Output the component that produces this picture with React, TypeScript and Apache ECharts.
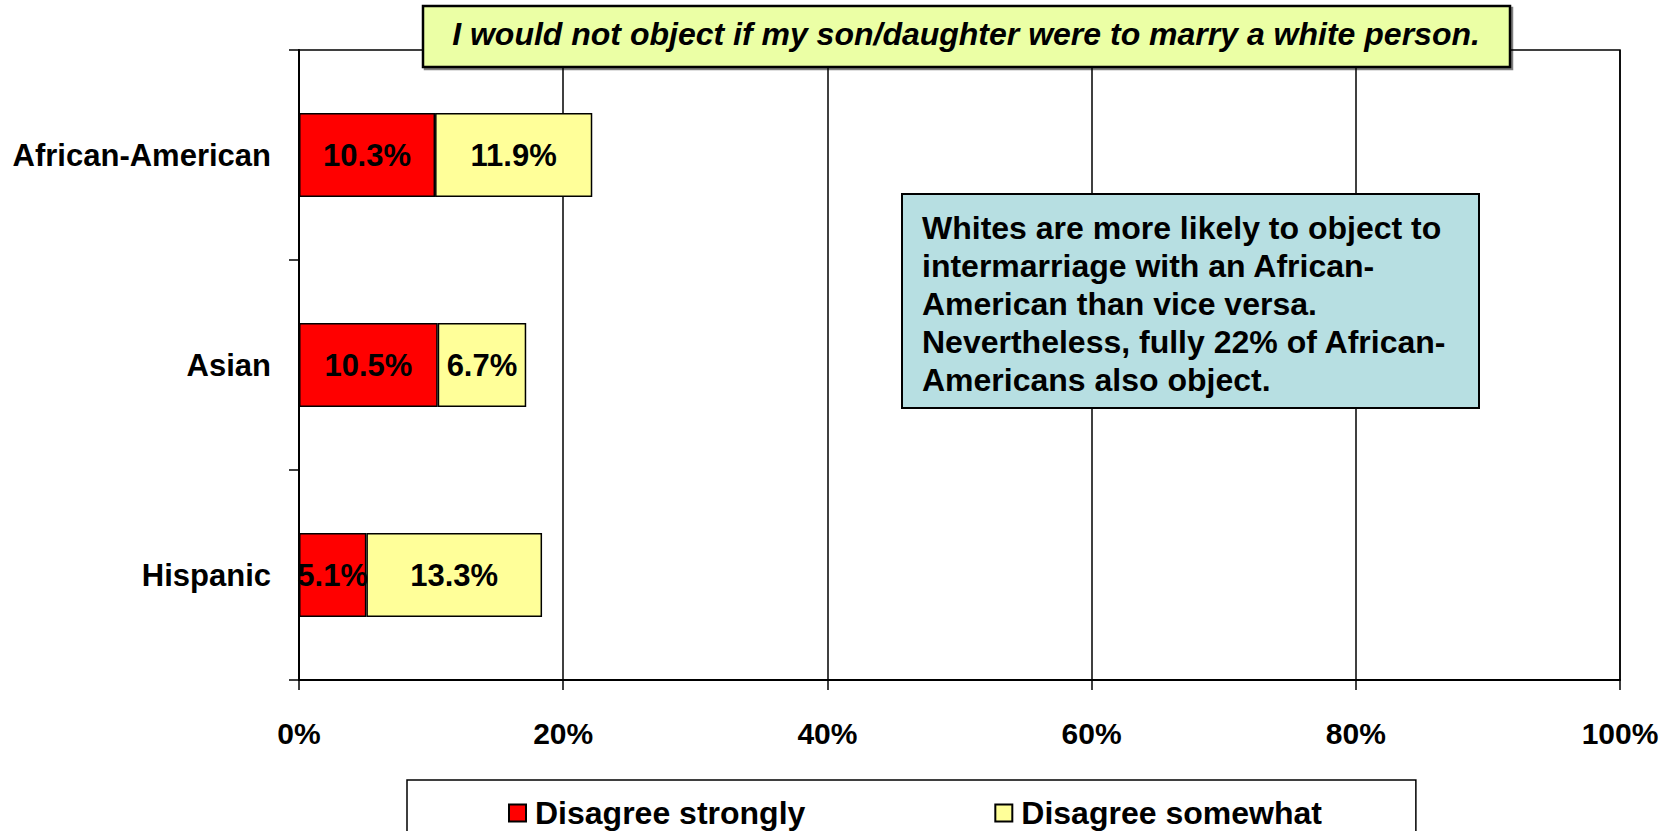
import React, { useEffect, useRef } from "react";
import * as echarts from "echarts";

const categories = ["African-American", "Asian", "Hispanic"];
const disagreeStrongly = [10.3, 10.5, 5.1];
const disagreeSomewhat = [11.9, 6.7, 13.3];
const seriesNames = ["Disagree strongly", "Disagree somewhat"];
const titleText = "I would not object if my son/daughter were to marry a white person.";
const noteLines = [
  "Whites are more likely to object to",
  "intermarriage with an African-",
  "American than vice versa.",
  "Nevertheless, fully 22% of African-",
  "Americans also object.",
];

const FONT = '"Liberation Sans", Arial, sans-serif';

export default function App() {
  const ref = useRef<HTMLDivElement>(null);
  useEffect(() => {
    if (!ref.current) return;
    const chart = echarts.init(ref.current, null, { renderer: "svg" });
    const labelStyle = {
      show: true,
      position: "inside" as const,
      formatter: "{c}%",
      color: "#000",
      fontWeight: "bold" as const,
      fontSize: 31,
      fontFamily: FONT,
    };
    chart.setOption({
      animation: false,
      backgroundColor: "#fff",
      textStyle: { fontFamily: FONT },
      grid: {
        left: 299,
        right: 57,
        top: 50,
        bottom: 151,
        show: true,
        borderColor: "#000",
        borderWidth: 1.5,
        backgroundColor: "transparent",
      },
      xAxis: {
        type: "value",
        min: 0,
        max: 100,
        interval: 20,
        axisLine: { show: true, lineStyle: { color: "#000", width: 2 } },
        axisTick: { show: true, length: 10, lineStyle: { color: "#000", width: 1.5 } },
        splitLine: { show: true, lineStyle: { color: "#000", width: 1.5 } },
        axisLabel: {
          formatter: "{value}%",
          color: "#000",
          fontWeight: "bold",
          fontSize: 30,
          fontFamily: FONT,
          margin: 38,
        },
      },
      yAxis: {
        type: "category",
        data: categories,
        inverse: true,
        axisLine: { show: true, lineStyle: { color: "#000", width: 2 } },
        axisTick: { show: true, length: 10, lineStyle: { color: "#000", width: 1.5 } },
        axisLabel: {
          color: "#000",
          fontWeight: "bold",
          fontSize: 31,
          fontFamily: FONT,
          margin: 28,
        },
      },
      legend: {
        left: 407,
        top: 780,
        orient: "horizontal",
        padding: [17, 94, 30, 101],
        itemWidth: 17,
        itemHeight: 17,
        itemGap: 189,
        icon: "rect",
        borderColor: "#000",
        borderWidth: 1.5,
        backgroundColor: "#fff",
        textStyle: {
          color: "#000",
          fontWeight: "bold",
          fontSize: 32,
          fontFamily: FONT,
          padding: [0, 0, 0, 4],
        },
        data: seriesNames,
      },
      series: [
        {
          name: seriesNames[0],
          type: "bar",
          stack: "total",
          barWidth: "40%",
          data: disagreeStrongly,
          itemStyle: { color: "#FF0000", borderColor: "#000", borderWidth: 1.5 },
          label: labelStyle,
        },
        {
          name: seriesNames[1],
          type: "bar",
          stack: "total",
          barWidth: "40%",
          data: disagreeSomewhat,
          itemStyle: { color: "#FFFF99", borderColor: "#000", borderWidth: 1.5 },
          label: labelStyle,
        },
      ],
      graphic: [
        {
          type: "rect",
          shape: { x: 423, y: 6, width: 1087, height: 61 },
          style: {
            fill: "#EBFFA5",
            stroke: "#000",
            lineWidth: 2.5,
            shadowBlur: 0,
            shadowOffsetX: 2,
            shadowOffsetY: 2,
            shadowColor: "rgba(0,0,0,0.5)",
          },
          z: 100,
        },
        {
          type: "text",
          x: 966,
          y: 34,
          style: {
            text: titleText,
            fill: "#000",
            font: `italic bold 32px ${FONT}`,
            textAlign: "center",
            textVerticalAlign: "middle",
          },
          z: 101,
        },
        {
          type: "rect",
          shape: { x: 902, y: 194, width: 577, height: 214 },
          style: { fill: "#B7DFE2", stroke: "#000", lineWidth: 2 },
          z: 100,
        },
        {
          type: "text",
          x: 922,
          y: 209,
          style: {
            text: noteLines.join("\n"),
            fill: "#000",
            font: `bold 32px ${FONT}`,
            lineHeight: 38,
            textAlign: "left",
            textVerticalAlign: "top",
          },
          z: 101,
        },
      ],
    });
    return () => chart.dispose();
  }, []);
  return (
    <div
      ref={ref}
      style={{ position: "fixed", left: 0, top: 0, width: 1677, height: 831 }}
    />
  );
}
